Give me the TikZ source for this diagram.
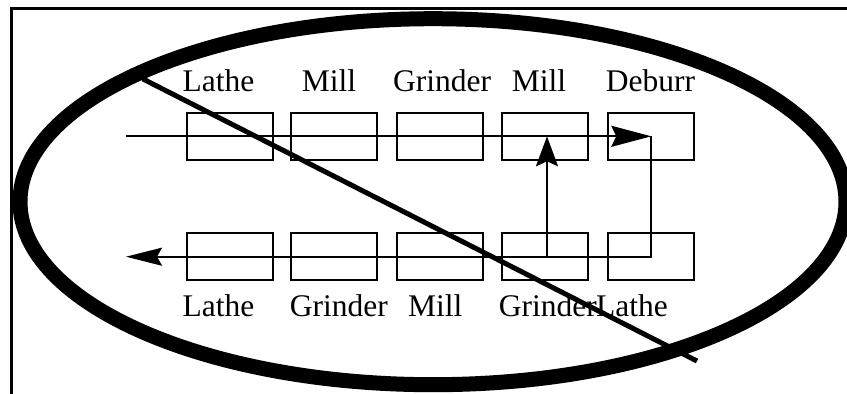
\documentclass[tikz,border=0pt]{standalone}
\usepackage{fontspec}
\setmainfont{Liberation Serif}
\usetikzlibrary{arrows.meta}
\tikzset{
  box/.style={draw, line width=2pt, minimum width=86pt, minimum height=47.5pt, inner sep=0pt},
  lbl/.style={anchor=base, inner sep=0pt, font=\fontsize{31.5}{36}\selectfont},
  flow/.style={line width=2pt},
  frameline/.style={line width=2.7pt},
  bigring/.style={line width=15pt},
  crossout/.style={line width=5pt}
}
\begin{document}
\begin{tikzpicture}[x=1pt,y=-1pt]
\useasboundingbox (0,0) rectangle (847,394);
\clip (0,0) rectangle (847,394);
% frame (top and left edges)
\draw[frameline] (11.7,394) -- (11.7,8.7) -- (847,8.7);
% boxes
\node[box] (t1) at (229.7,136.3) {};
\node[box] (t2) at (333.7,136.3) {};
\node[box] (t3) at (440.3,136.3) {};
\node[box] (t4) at (544.5,136.3) {};
\node[box] (t5) at (651.3,136.3) {};
\node[box] (b1) at (229.7,256.7) {};
\node[box] (b2) at (333.7,256.7) {};
\node[box] (b3) at (440.3,256.7) {};
\node[box] (b4) at (544.5,256.7) {};
\node[box] (b5) at (651.3,256.7) {};
% labels
\node[lbl] (lt1) at (218.4,91.1) {Lathe};
\node[lbl] (lt2) at (329.0,91.1) {Mill};
\node[lbl] (lt3) at (442.1,91.1) {Grinder};
\node[lbl] (lt4) at (538.9,91.1) {Mill};
\node[lbl] (lt5) at (650.5,91.1) {Deburr};
\node[lbl] (lb1) at (218.4,316.1) {Lathe};
\node[lbl] (lb2) at (338.8,316.1) {Grinder};
\node[lbl] (lb3) at (435.3,316.1) {Mill};
\node[lbl] (lb4) at (547.9,316.1) {Grinder};
\node[lbl] (lb5) at (632.0,316.1) {Lathe};
% connectors
\coordinate (tin) at (126,136.3);
\coordinate (bout) at (126,256.7);
\draw[flow, -{Stealth[length=40pt,width=21pt,inset=5pt]}] (tin) -- (t5.center);
\draw[flow, -{Stealth[length=36pt,width=18pt,inset=5pt]}] (t5.center) -- (b5.center) -- (bout);
\draw[flow, -{Stealth[length=30pt,width=22pt,inset=5pt]}] ([xshift=2.5pt]b4.center) -- ([xshift=2.5pt]t4.center);
% ring and cross-out
\draw[bigring] (433,201.7) ellipse [x radius=413pt, y radius=183pt];
\coordinate (xs) at (143,79);
\coordinate (xe) at (697,361);
\draw[crossout] (xs) -- (xe);
\end{tikzpicture}
\end{document}
